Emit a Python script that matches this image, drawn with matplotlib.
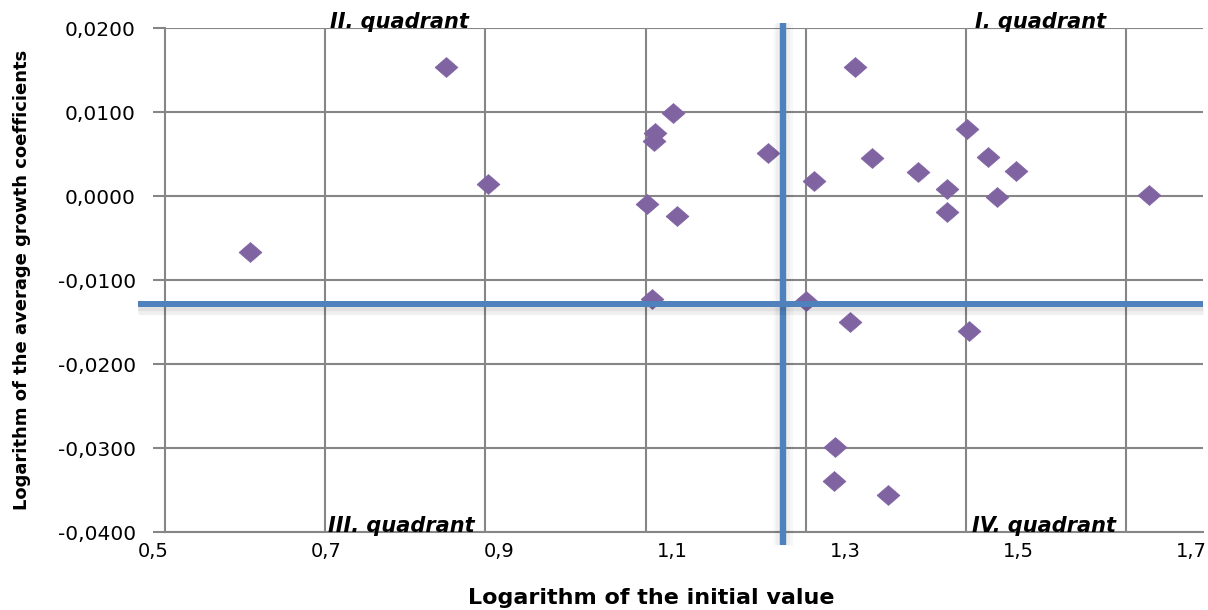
import matplotlib
matplotlib.use("Agg")
import matplotlib.pyplot as plt
import matplotlib.patheffects as pe
from matplotlib.ticker import FuncFormatter, FixedLocator
from matplotlib.transforms import ScaledTranslation
import numpy as np

# data
x_vals = [0.598, 0.825, 0.873, 1.087, 1.067, 1.065, 1.197, 1.057, 1.092, 1.063,
          1.241, 1.298, 1.250, 1.317, 1.371, 1.404, 1.404, 1.427, 1.452, 1.484,
          1.462, 1.638, 1.292, 1.429, 1.275, 1.273, 1.336]
y_vals = [-0.0067, 0.0153, 0.0014, 0.0099, 0.0075, 0.0065, 0.0051, -0.0009, -0.0024, -0.0123,
          -0.0125, 0.0153, 0.0018, 0.0045, 0.0029, 0.0008, -0.0019, 0.0080, 0.0046, 0.0030,
          -0.0001, 0.0001, -0.0150, -0.0161, -0.0299, -0.0339, -0.0356]

# quadrant dividers
x_ref = 1.214
y_ref = -0.0129

x_ticks = [0.5, 0.7, 0.9, 1.1, 1.3, 1.5, 1.7]
y_ticks = [-0.04, -0.03, -0.02, -0.01, 0.0, 0.01, 0.02]
quadrants = ["II. quadrant", "I. quadrant", "III. quadrant", "IV. quadrant"]
quad_x = [0.691, 1.436, 0.688, 1.433]
quad_y = [0.02, 0.02, -0.04, -0.04]

purple = "#8064A2"
blue = "#4F81BD"
grey = "#868686"

fig = plt.figure(figsize=(12.08, 6.10), dpi=100)
ax = fig.add_axes([165 / 1208, 1 - 532 / 610, 1038 / 1208, 504 / 610])

ax.set_xlim(0.5, 1.7)
ax.set_ylim(-0.04, 0.02)

# the vertical gridlines of the original sit on their own spacing
x_grid = 0.5 + np.arange(7) * (1.2 / 6.48)
ax.xaxis.set_minor_locator(FixedLocator(x_grid))
ax.set_xticks(x_ticks)
ax.set_yticks(y_ticks)
ax.grid(which="minor", axis="x", color=grey, lw=1.5)
ax.grid(which="major", axis="y", color=grey, lw=1.5)
ax.set_axisbelow(True)

ax.xaxis.set_major_formatter(FuncFormatter(lambda v, p: f"{v:.1f}".replace(".", ",")))
ax.yaxis.set_major_formatter(FuncFormatter(lambda v, p: f"{v:.4f}".replace(".", ",")))
ax.tick_params(axis="x", which="both", length=0, pad=7, labelsize=14)
ax.tick_params(axis="y", length=9, width=1.5, color=grey, pad=12, labelsize=14.5)

# x labels sit a little left of their values in the original
shift = ScaledTranslation(-12 / 100, 0, fig.dpi_scale_trans)
for tick in ax.xaxis.get_major_ticks():
    tick.label1.set_transform(tick.label1.get_transform() + shift)

for s in ["top", "right"]:
    ax.spines[s].set_visible(False)
for s in ["left", "bottom"]:
    ax.spines[s].set_color(grey)
    ax.spines[s].set_linewidth(1.5)

diamond = [(-1.15, 0), (0, 1), (1.15, 0), (0, -1), (-1.15, 0)]
ax.plot(x_vals, y_vals, linestyle="none", marker=diamond, ms=16.5,
        color=purple, mec=purple, mew=0.5, zorder=3)

glow_v = [pe.SimpleLineShadow(offset=(0, 0), shadow_color="k", alpha=0.03, linewidth=14),
          pe.SimpleLineShadow(offset=(0, 0), shadow_color="k", alpha=0.03, linewidth=10),
          pe.Normal()]
glow_h = [pe.SimpleLineShadow(offset=(0, -3), shadow_color="k", alpha=0.06, linewidth=8),
          pe.SimpleLineShadow(offset=(0, -2), shadow_color="k", alpha=0.06, linewidth=6),
          pe.Normal()]
ax.axvline(x_ref, ymin=-0.026, ymax=1.01, color=blue, lw=4.6,
           clip_on=False, zorder=4, path_effects=glow_v, solid_capstyle="butt")
ax.axhline(y_ref, xmin=-0.026, xmax=1.0, color=blue, lw=4.3,
           clip_on=False, zorder=4, path_effects=glow_h, solid_capstyle="butt")

for label, qx, qy in zip(quadrants, quad_x, quad_y):
    ax.text(qx, qy, label, fontsize=15, fontweight="bold", fontstyle="italic",
            ha="left", va="baseline", zorder=5)

fig.text(651 / 1208, 1 - 598 / 610, "Logarithm of the initial value",
         fontsize=16, fontweight="bold", ha="center", va="center")
fig.text(22 / 1208, 1 - 280 / 610, "Logarithm of the average growth coefficients",
         fontsize=13, fontweight="bold", ha="center", va="center", rotation=90)

fig.savefig("out.png", dpi=100)
